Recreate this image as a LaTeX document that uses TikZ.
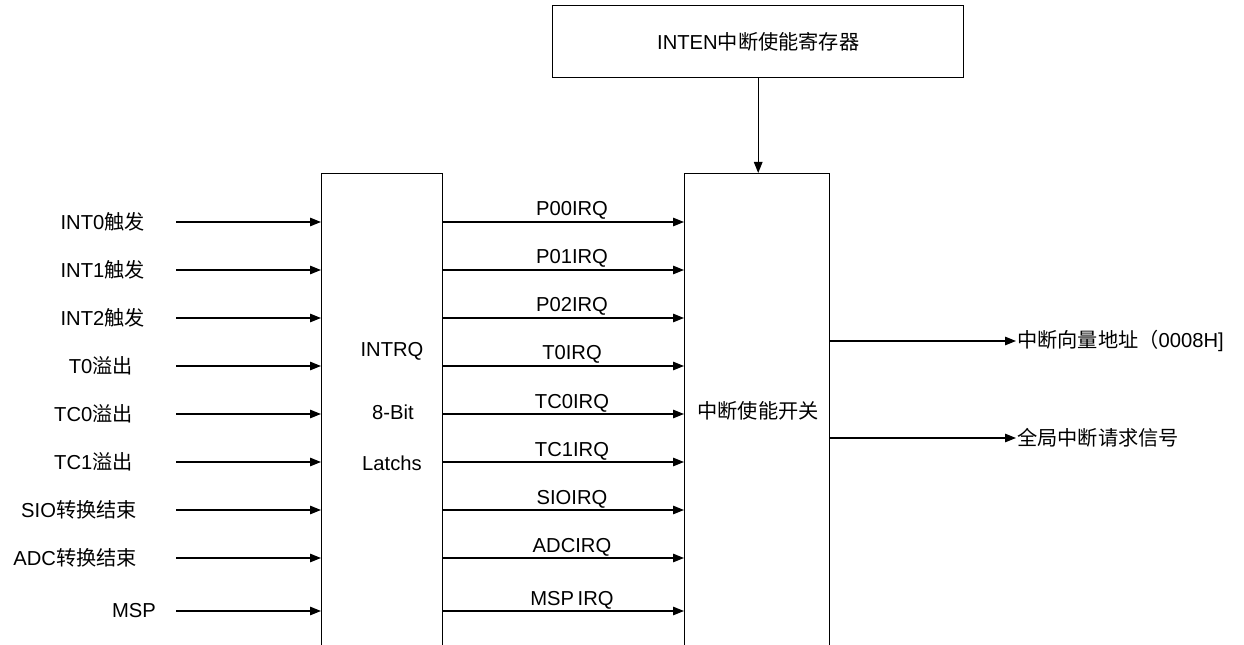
\documentclass[tikz,border=0pt]{standalone}
\usepackage{fontspec}
\setmainfont{Liberation Sans}
\newfontfamily\cjk{Noto Sans CJK SC}
\usetikzlibrary{arrows.meta}
\newcommand\zh[1]{{\cjk #1}}
\newcommand\fsz{\fontsize{20.2bp}{24bp}\selectfont}
\begin{document}
\begin{tikzpicture}[x=1bp,y=-1bp,
  box/.style={draw, line width=1.4bp, inner sep=0pt},
  lbl/.style={inner sep=0pt, font=\fsz},
  arr/.style={-{Triangle[length=11bp,width=8.5bp]}, line width=1.2bp}]
\useasboundingbox (0,0) rectangle (1244,645);
\clip (0,0) rectangle (1244,645);
% boxes
\node[box, anchor=north west, minimum width=121bp, minimum height=500bp] (latch) at (321,173) {};
\node[box, anchor=north west, minimum width=145bp, minimum height=500bp] (sw) at (684,173) {};
\node[box, anchor=north west, minimum width=411bp, minimum height=72bp, font=\fsz] (inten) at (552,5) {INTEN\zh{中断使能寄存器}};
% box texts
\node[lbl] (t1) at (392,351) {INTRQ};
\node[lbl] (t2) at (393,412) {8-Bit};
\node[lbl] (t3) at (392,463) {Latchs};
\node[lbl] (swt) at (758,411) {\zh{中断使能开关}};
% enable arrow
\draw[arr] (inten.south) -- (inten.south |- sw.north);
% inputs
\foreach \i/\y/\xe/\t in {1/222/145/{INT0\zh{触发}},2/270/145/{INT1\zh{触发}},3/318/145/{INT2\zh{触发}},4/366/133/{T0\zh{溢出}},5/414/133/{TC0\zh{溢出}},6/462/133/{TC1\zh{溢出}},7/510/137/{SIO\zh{转换结束}},8/558/137/{ADC\zh{转换结束}},9/611/156/{MSP}}{
  \node[lbl, anchor=east] (in\i) at (\xe,\y) {\t};
  \coordinate (s\i) at (176,\y);
  \draw[arr] (s\i) -- (s\i -| latch.west);
}
% middle signals
\foreach \i/\y/\t in {1/222/P00IRQ,2/270/P01IRQ,3/318/P02IRQ,4/366/T0IRQ,5/414/TC0IRQ,6/462/TC1IRQ,7/510/SIOIRQ,8/558/ADCIRQ,9/611/MSP\kern-2bp\ IRQ}{
  \coordinate (m\i) at (442,\y);
  \draw[arr] (m\i -| latch.east) -- (m\i -| sw.west);
  \node[lbl, anchor=base] (ml\i) at (572,\y-6) {\t};
}
% outputs
\coordinate (o1) at (1016,341);
\coordinate (o2) at (1016,438);
\draw[arr] (o1 -| sw.east) -- (o1);
\draw[arr] (o2 -| sw.east) -- (o2);
\node[lbl, anchor=west] (ol1) at (1017,341) {\zh{中断向量地址（}0008H]};
\node[lbl, anchor=west] (ol2) at (1017,438) {\zh{全局中断请求信号}};
\end{tikzpicture}
\end{document}
